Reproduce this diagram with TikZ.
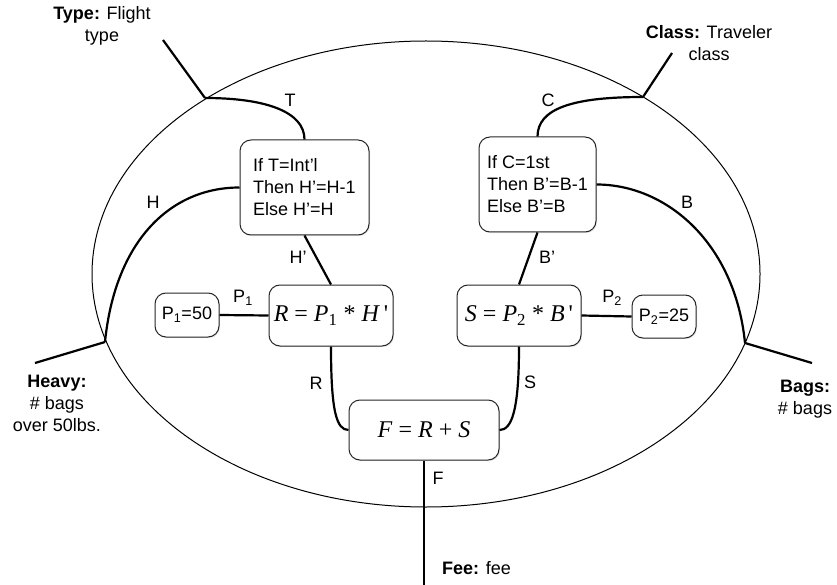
\documentclass[tikz,border=0pt]{standalone}
\usepackage{fontspec}
\setmainfont{Liberation Sans}
\newfontfamily\serifm{Liberation Serif}
\usetikzlibrary{shadows}
\newcommand{\mi}[1]{\textit{#1}}
\begin{document}
\begin{tikzpicture}[x=1pt,y=-1pt,
  box/.style={draw=black!85, line width=1pt, rounded corners=11pt, fill=white, inner sep=0pt,
    drop shadow={opacity=0.2, shadow xshift=1pt, shadow yshift=-1.2pt}},
  wire/.style={line width=2.2pt},
  lbl/.style={font=\fontsize{18}{22}\selectfont, inner sep=0pt},
  txt/.style={font=\fontsize{18}{22}\selectfont, align=left},
  eq/.style={font=\serifm\fontsize{24}{28}\selectfont}]
\useasboundingbox (0,0) rectangle (837,585);
\draw[line width=1pt] (426,274) ellipse [x radius=334pt, y radius=233pt];

% nodes
\node[box, txt, minimum width=129pt, minimum height=95pt] (ift) at (304.5,187.5) {If T=Int’l\\Then H’=H-1\\Else H’=H};
\node[box, txt, minimum width=117pt, minimum height=95pt] (ifc) at (537.5,184.5) {If C=1st\\Then B’=B-1\\Else B’=B};
\node[box, eq, minimum width=124pt, minimum height=61pt] (r) at (331,315.5) {\mi{R} = \mi{P}\textsubscript{1} * \mi{H}\,'};
\node[box, eq, minimum width=124pt, minimum height=61pt] (s) at (519,315.5) {\mi{S} = \mi{P}\textsubscript{2} * \mi{B}\,'};
\node[box, txt, minimum width=64pt, minimum height=44pt] (p1) at (187,315) {P\textsubscript{1}=50};
\node[box, txt, minimum width=64pt, minimum height=43pt] (p2) at (664,316.5) {P\textsubscript{2}=25};
\node[box, eq, minimum width=150pt, minimum height=60pt] (f) at (424,430) {\mi{F} = \mi{R} + \mi{S}};

% boundary points
\coordinate (tp) at (205,98);
\coordinate (cp) at (643,97);
\coordinate (hp) at (105,342);
\coordinate (bp) at (745,343);
\coordinate (fe) at (424,585);
\coordinate (tend) at (163,40);
\coordinate (cend) at (672,53);
\coordinate (hend) at (35,363);
\coordinate (bend) at (812,363);

% outer leads
\draw[wire] (tp) -- (tend);
\draw[wire] (cp) -- (cend);
\draw[wire] (hp) -- (hend);
\draw[wire] (bp) -- (bend);

% connectors
\draw[wire] (tp) .. controls +(60,0) and +(0,-28) .. (ift.north);
\draw[wire] (cp) .. controls +(-70,0) and +(0,-28) .. (ifc.north);
\draw[wire] (hp) .. controls +(10,-100) and +(-70,0) .. (ift.west);
\draw[wire] (ifc.east) .. controls +(70,0) and +(-10,-100) .. (bp);
\draw[wire] (ift.south) -- (r.north);
\draw[wire] (ifc.south) -- (s.north);
\draw[wire] (p1.east) -- (r.west);
\draw[wire] (s.east) -- (p2.west);
\draw[wire] (r.south) .. controls +(0,65) and +(-12,0) .. (f.west);
\draw[wire] (s.south) .. controls +(0,65) and +(12,0) .. (f.east);
\draw[wire] (f.south) -- (fe);

% connector labels
\node[lbl] (lt) at (290,100) {T};
\node[lbl] (lc) at (548,100) {C};
\node[lbl] (lh) at (153,202) {H};
\node[lbl] (lb) at (687,202) {B};
\node[lbl] (lhp) at (298,257) {H’};
\node[lbl] (lbp) at (547,257) {B’};
\node[lbl] (lp1) at (243,298) {P\textsubscript{1}};
\node[lbl] (lp2) at (612,298) {P\textsubscript{2}};
\node[lbl] (lr) at (316,383) {R};
\node[lbl] (ls) at (530,382) {S};
\node[lbl] (lf) at (438,478) {F};

% outer labels
\node[lbl, align=center] (type) at (102,26) {\textbf{Type:} Flight\\type};
\node[lbl, align=center] (class) at (709,43) {\textbf{Class:} Traveler\\class};
\node[lbl, align=center] (heavy) at (57,403) {\textbf{Heavy:}\\\# bags\\over 50lbs.};
\node[lbl, align=center] (bags) at (805,399) {\textbf{Bags:}\\\# bags};
\node[lbl, anchor=west] (fee) at (442,568) {\textbf{Fee:} fee};
\end{tikzpicture}
\end{document}
